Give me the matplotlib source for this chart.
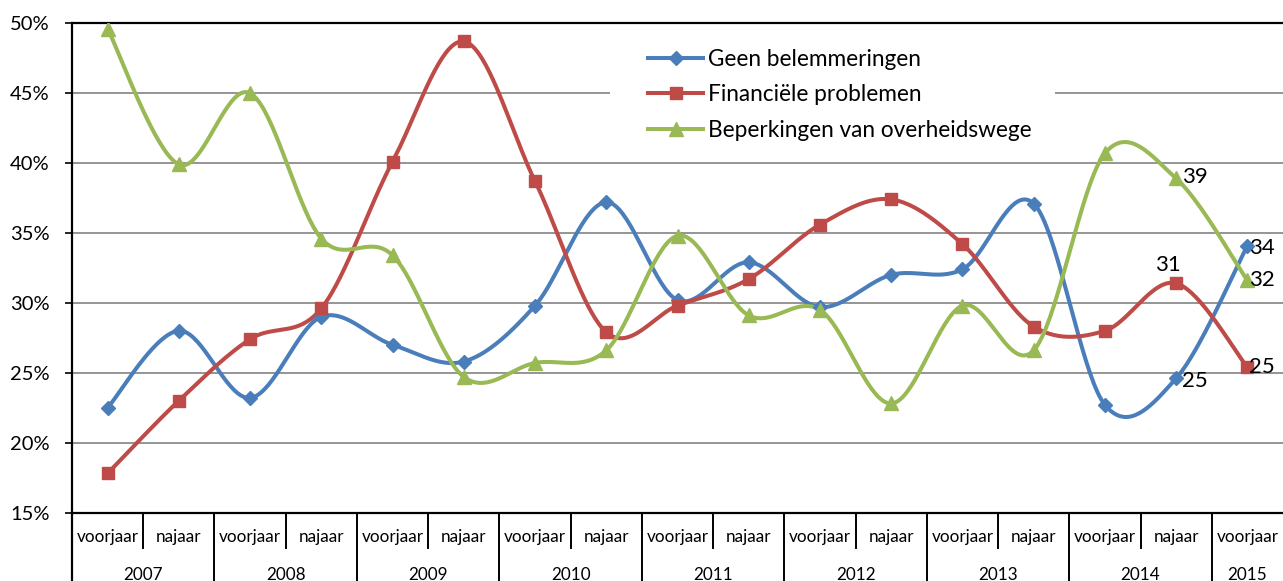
import numpy as np
import matplotlib
matplotlib.use('Agg')
import matplotlib.pyplot as plt
from matplotlib.ticker import FuncFormatter
from matplotlib.patches import Rectangle
import matplotlib.transforms as mtrans

plt.rcParams['font.family'] = ['Lato', 'DejaVu Sans']

# ---------------- data ----------------
seasons = ['voorjaar', 'najaar'] * 8 + ['voorjaar']
years = ['2007', '2008', '2009', '2010', '2011', '2012', '2013', '2014', '2015']
series_names = ['Geen belemmeringen', 'Financiële problemen', 'Beperkingen van overheidswege']
geen = [22.5, 28.0, 23.2, 29.0, 27.0, 25.8, 29.8, 37.2, 30.2, 32.9, 29.7, 32.0, 32.4, 37.1, 22.7, 24.6, 34.1]
fin = [17.8, 23.0, 27.4, 29.6, 40.1, 48.7, 38.7, 27.9, 29.8, 31.7, 35.6, 37.4, 34.2, 28.3, 28.0, 31.4, 25.4]
bep = [49.6, 39.9, 45.0, 34.6, 33.4, 24.7, 25.7, 26.6, 34.8, 29.1, 29.5, 22.8, 29.8, 26.6, 40.7, 38.9, 31.6]
yticks = [15, 20, 25, 30, 35, 40, 45, 50]

colors = ['#4A7EBB', '#BE4B48', '#98B954']
markers = ['D', 's', '^']
msizes = [7.5, 8.5, 9.5]


def smooth(x, y, n=40):
    """Excel-style smoothed line (Catmull-Rom Bezier)."""
    x = np.asarray(x, float)
    y = np.asarray(y, float)
    P = np.column_stack([x, y])
    P = np.vstack([P[0], P, P[-1]])
    t = np.linspace(0, 1, n)[:, None]
    out = []
    for i in range(1, len(P) - 2):
        p0, p1, p2, p3 = P[i - 1], P[i], P[i + 1], P[i + 2]
        c1 = p1 + (p2 - p0) / 6.0
        c2 = p2 - (p3 - p1) / 6.0
        seg = ((1 - t) ** 3) * p1 + 3 * ((1 - t) ** 2) * t * c1 + 3 * (1 - t) * t ** 2 * c2 + t ** 3 * p2
        out.append(seg if i == 1 else seg[1:])
    out = np.vstack(out)
    return out[:, 0], out[:, 1]


W, H = 1283, 581
fig = plt.figure(figsize=(W / 100, H / 100), dpi=100)
L, R, T, B = 72, 1283, 23.3, 512.5
ax = fig.add_axes([L / W, (H - B) / H, (R - L) / W, (B - T) / H])
ax_w, ax_h = R - L, B - T


def xa(px):
    return (px - L) / ax_w


def ya(px):
    return (B - px) / ax_h


xs = np.arange(len(seasons))
for vals, name, c, m, ms in zip([geen, fin, bep], series_names, colors, markers, msizes):
    sx, sy = smooth(xs, vals)
    ax.plot(sx, sy, color=c, lw=2.9, solid_capstyle='round', zorder=3)
    ax.plot(xs, vals, linestyle='none', marker=m, ms=ms, color=c, zorder=4)
    ax.plot([], [], color=c, lw=2.9, marker=m, ms=ms, label=name)

ax.set_xlim(-0.5, len(seasons) - 0.5)
ax.set_ylim(yticks[0], yticks[-1])
ax.set_yticks(yticks)
ax.yaxis.set_major_formatter(FuncFormatter(lambda v, p: f'{int(v)}%'))
ax.tick_params(axis='y', length=5, width=1.2, color='black', labelsize=14.5, pad=11)
ax.set_xticks([])
ax.grid(axis='y', color='#8C8C8C', lw=1.3, zorder=0)
ax.set_axisbelow(True)
ax.spines['right'].set_visible(False)
for s in ['left', 'bottom', 'top']:
    ax.spines[s].set_linewidth(1.6)
    ax.spines[s].set_color('black')

# category axis (two levels)
tr = mtrans.blended_transform_factory(ax.transData, ax.transAxes)
for i, s in enumerate(seasons):
    ax.text(i, ya(537), s, transform=tr, ha='center', va='center', fontsize=12.3)
for k, yname in enumerate(years):
    idx = [i for i in range(len(seasons)) if i // 2 == k]
    ax.text(np.mean(idx), ya(575), yname, transform=tr, ha='center', va='center', fontsize=12.3)
for i in range(len(seasons) - 1):
    b = i + 0.5
    end = ya(581) if i % 2 == 1 else ya(548)
    ax.plot([b, b], [0, end], transform=tr, color='black', lw=1.4, clip_on=False)
ax.plot([-0.5, -0.5], [0, ya(581)], transform=tr, color='black', lw=1.6, clip_on=False)

# data labels
px2pt = 0.72
lab = [
    (15, bep[15], 6, 1, 'left'),
    (15, geen[15], 6, -3, 'left'),
    (15, fin[15], -8, 18, 'center'),
    (16, geen[16], 2, -2, 'left'),
    (16, bep[16], 2, 0, 'left'),
    (16, fin[16], 2, 0, 'left'),
]
for i, v, dx, dy, ha in lab:
    ax.annotate(f'{int(round(v))}', xy=(i, v), xytext=(dx * px2pt, dy * px2pt), textcoords='offset points',
                ha=ha, va='center', fontsize=16, zorder=6, annotation_clip=False)

# legend box (white background hiding gridlines) and legend
ax.add_patch(Rectangle((xa(610), ya(158)), xa(1055) - xa(610), ya(28) - ya(158), transform=ax.transAxes,
                       facecolor='white', edgecolor='none', zorder=1.5))
leg = ax.legend(loc='upper left', bbox_to_anchor=(xa(648), ya(49)), borderaxespad=0,
                frameon=False, fontsize=16.3, handlelength=2.45, handletextpad=0.2,
                labelspacing=0.63, borderpad=0)
leg.set_zorder(5)

fig.savefig('out.png', dpi=100)
